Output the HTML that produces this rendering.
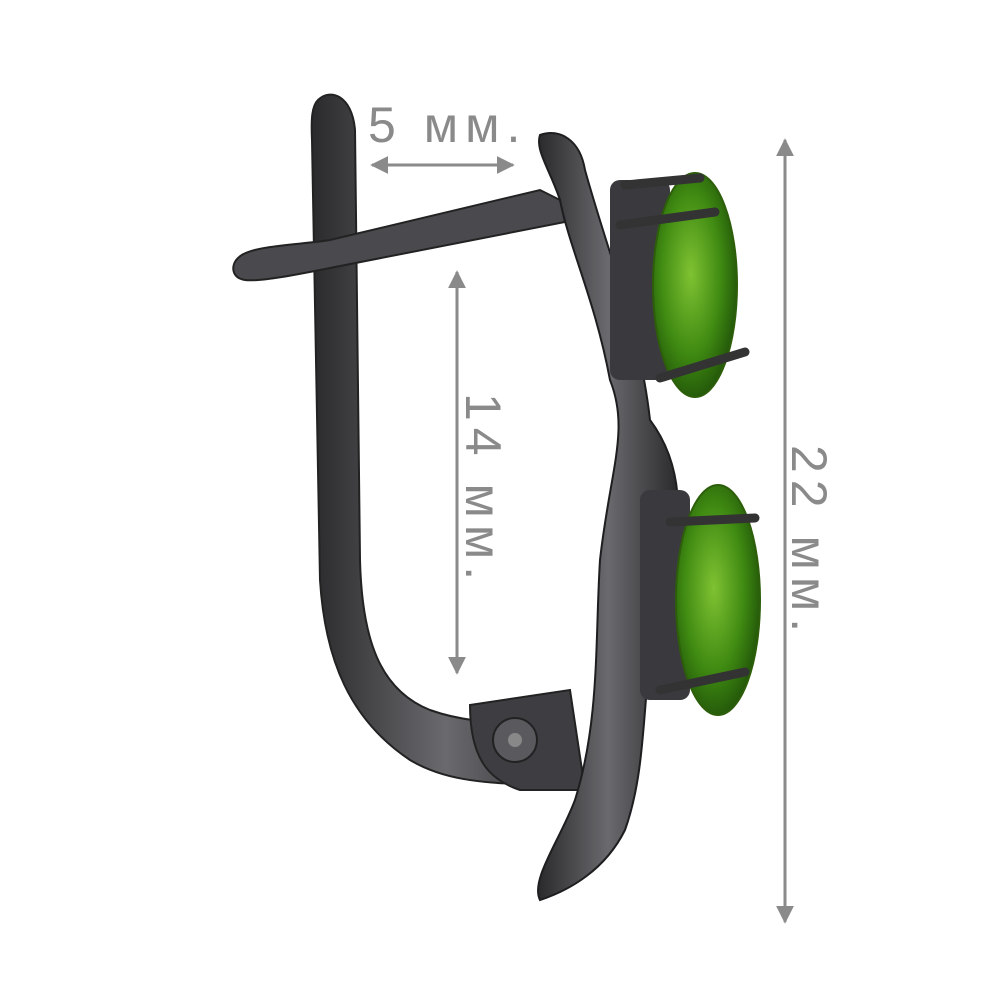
<!DOCTYPE html>
<html><head><meta charset="utf-8"><style>
html,body{margin:0;padding:0;background:#fff;width:1000px;height:1000px;overflow:hidden}
</style></head><body>
<svg width="1000" height="1000" viewBox="0 0 1000 1000" xmlns="http://www.w3.org/2000/svg">
<defs>
<linearGradient id="m" x1="0" x2="1" y1="0" y2="0">
<stop offset="0" stop-color="#2a2a2c"/><stop offset="0.5" stop-color="#6a6a6e"/><stop offset="1" stop-color="#2a2a2c"/>
</linearGradient>
<radialGradient id="g" cx="0.45" cy="0.45" r="0.6">
<stop offset="0" stop-color="#7fc232"/><stop offset="0.6" stop-color="#3f8a12"/><stop offset="1" stop-color="#1f5008"/>
</radialGradient>
<marker id="ah" viewBox="0 0 10 10" refX="9" refY="5" markerWidth="6" markerHeight="6" orient="auto-start-reverse">
<path d="M0,0 L10,5 L0,10 z" fill="#8a8a8a"/></marker>
</defs>
<g stroke="#8a8a8a" stroke-width="3" fill="none">
<line x1="372" y1="165" x2="513" y2="165" marker-start="url(#ah)" marker-end="url(#ah)"/>
<line x1="457" y1="272" x2="457" y2="673" marker-start="url(#ah)" marker-end="url(#ah)"/>
<line x1="785" y1="140" x2="785" y2="922" marker-start="url(#ah)" marker-end="url(#ah)"/>
</g>
<g fill="#8a8a8a" font-family="Liberation Sans, sans-serif" font-size="50" letter-spacing="7">
<text x="368" y="142">5 мм.</text>
<text transform="translate(466,393) rotate(90)">14 мм.</text>
<text transform="translate(792,445) rotate(90)">22 мм.</text>
</g>
<path d="M318,100 C330,88 352,95 355,130 L360,560 C362,640 380,690 430,710 C480,728 530,720 575,730 L580,790 C520,780 460,790 410,760 C350,720 325,660 320,580 L312,140 C311,118 312,106 318,100 Z" fill="url(#m)" stroke="#222" stroke-width="2"/>
<path d="M238,258 C250,245 300,245 330,240 L540,190 L560,200 L565,222 L330,268 C300,274 260,282 245,280 C232,278 230,266 238,258 Z" fill="#4a4a4e" stroke="#222" stroke-width="2"/>
<path d="M470,705 L570,690 L585,790 L520,790 C490,780 470,760 470,705 Z" fill="#3e3e42" stroke="#222" stroke-width="2"/>
<circle cx="515" cy="740" r="22" fill="#5a5a5e" stroke="#222" stroke-width="2"/>
<circle cx="515" cy="740" r="7" fill="#888"/>
<path d="M540,135 C560,128 580,140 585,170 C610,260 640,330 650,420 C680,460 690,520 660,600 C640,680 650,760 625,830 C605,870 570,890 540,900 C530,880 560,840 575,800 C600,720 595,640 600,560 C610,470 630,430 610,380 C595,300 570,250 560,200 C550,170 535,150 540,135 Z" fill="url(#m)" stroke="#1e1e20" stroke-width="2"/>
<rect x="610" y="180" width="60" height="200" rx="10" fill="#3a3a3e"/>
<rect x="640" y="490" width="50" height="210" rx="10" fill="#3a3a3e"/>
<ellipse cx="695" cy="285" rx="42" ry="112" fill="url(#g)" stroke="#2d5e0a" stroke-width="2"/>
<ellipse cx="718" cy="600" rx="42" ry="115" fill="url(#g)" stroke="#2d5e0a" stroke-width="2"/>
<g stroke="#333" stroke-width="9" stroke-linecap="round" fill="none">
<path d="M620,225 L715,212"/><path d="M660,378 L745,352"/>
<path d="M670,522 L755,518"/><path d="M660,690 L745,672"/>
<path d="M625,185 L700,178"/>
</g>
</svg>
</body></html>
